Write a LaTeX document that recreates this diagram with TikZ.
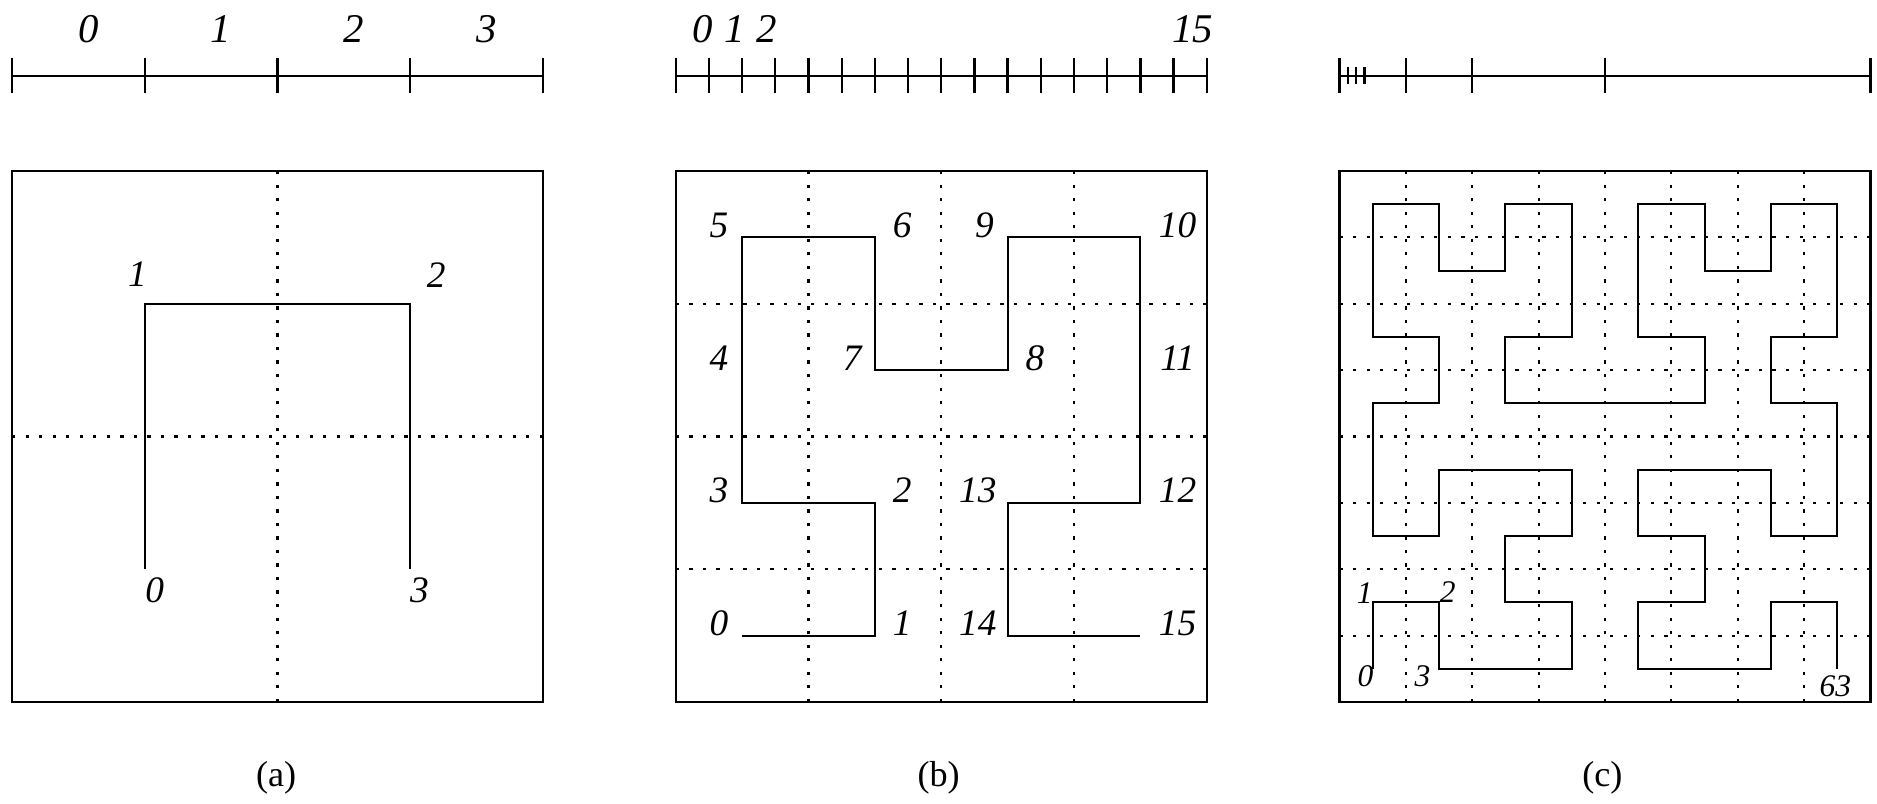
\documentclass[tikz,border=0pt]{standalone}
\usepackage{fontspec}
\setmainfont{Liberation Serif}
\usetikzlibrary{positioning}
\tikzset{
  pane/.style={draw, line width=0.9pt},
  gline/.style={line width=0.9pt, dash pattern=on 1.4pt off 4.4pt},
  hcurve/.style={line width=0.85pt},
  rule/.style={line width=1pt},
  num/.style={font=\fontsize{16}{18}\selectfont\itshape, inner sep=0pt, anchor=base},
  snum/.style={font=\fontsize{13.5}{15}\selectfont\itshape, inner sep=0pt, anchor=base},
  rnum/.style={font=\fontsize{17.5}{20}\selectfont\itshape, inner sep=0pt, anchor=base},
  capt/.style={font=\fontsize{15.5}{18}\selectfont, inner sep=0pt, anchor=base}
}

\begin{document}
\begin{tikzpicture}
\useasboundingbox (-0.181,-1.522) rectangle (28.098,10.576);
% rulers
\draw[rule] (0,9.436) -- (8,9.436);
\foreach \i in {0,2,4,6,8} \draw[rule] (\i,9.176) -- (\i,9.696);
\foreach \i/\t in {0/0,1/1,2/2,3/3} \node[rnum] (ra\t) at (2*\i+1.15,9.94) {\t};
\draw[rule] (10,9.436) -- (18,9.436);
\foreach \i in {0,...,16} \draw[rule] (10+0.5*\i,9.176) -- (10+0.5*\i,9.696);
\node[rnum] (rb0) at (10.41,9.94) {0};
\node[rnum] (rb1) at (10.89,9.94) {1};
\node[rnum] (rb2) at (11.37,9.94) {2};
\node[rnum] (rb15) at (17.79,9.94) {15};
\draw[rule] (20,9.436) -- (28,9.436);
\foreach \x in {20,21,22,24,28} \draw[rule] (\x,9.176) -- (\x,9.696);
\foreach \x in {20.125,20.25,20.375} \draw[rule] (\x,9.306) -- (\x,9.566);

% (a)
\draw[gline] (4,0) -- (4,8) (0,4) -- (8,4);
\draw[pane] (0,0) rectangle (8,8);
\draw[hcurve] (2,2) -- (2,6) -- (6,6) -- (6,2);
\node[num] (a0) at (2.15,1.5) {0};
\node[num] (a1) at (1.89,6.26) {1};
\node[num] (a2) at (6.39,6.24) {2};
\node[num] (a3) at (6.14,1.5) {3};
\node[capt] (capa) at (3.98,-1.266) {(a)};

% (b)
\foreach \k in {12,14,16} \draw[gline] (\k,0) -- (\k,8);
\foreach \k in {2,4,6} \draw[gline] (10,\k) -- (18,\k);
\draw[pane] (10,0) rectangle (18,8);
\draw[hcurve] plot coordinates {(11,1) (13,1) (13,3) (11,3) (11,5) (11,7) (13,7) (13,5)
  (15,5) (15,7) (17,7) (17,5) (17,3) (15,3) (15,1) (17,1)};
\node[num] (b0) at (10.65,1) {0};
\node[num] (b1) at (13.41,1) {1};
\node[num] (b2) at (13.41,3) {2};
\node[num] (b3) at (10.65,3) {3};
\node[num] (b4) at (10.65,5) {4};
\node[num] (b5) at (10.65,7) {5};
\node[num] (b6) at (13.41,7) {6};
\node[num] (b7) at (12.66,5) {7};
\node[num] (b8) at (15.41,5) {8};
\node[num] (b9) at (14.65,7) {9};
\node[num] (b10) at (17.56,7) {10};
\node[num] (b11) at (17.56,5) {11};
\node[num] (b12) at (17.56,3) {12};
\node[num] (b13) at (14.55,3) {13};
\node[num] (b14) at (14.55,1) {14};
\node[num] (b15) at (17.56,1) {15};
\node[capt] (capb) at (13.96,-1.266) {(b)};

% (c)
\foreach \k in {1,...,7} {
  \draw[gline] (20+\k,0) -- (20+\k,8);
  \draw[gline] (20,\k) -- (28,\k);
}
\draw[pane] (20,0) rectangle (28,8);
\begin{scope}[shift={(20.5,0.5)}]
\draw[hcurve] plot coordinates {(0,0) (0,1) (1,1) (1,0) (2,0) (3,0) (3,1) (2,1)
  (2,2) (3,2) (3,3) (2,3) (1,3) (1,2) (0,2) (0,3)
  (0,4) (1,4) (1,5) (0,5) (0,6) (0,7) (1,7) (1,6)
  (2,6) (2,7) (3,7) (3,6) (3,5) (2,5) (2,4) (3,4)
  (4,4) (5,4) (5,5) (4,5) (4,6) (4,7) (5,7) (5,6)
  (6,6) (6,7) (7,7) (7,6) (7,5) (6,5) (6,4) (7,4)
  (7,3) (7,2) (6,2) (6,3) (5,3) (4,3) (4,2) (5,2)
  (5,1) (4,1) (4,0) (5,0) (6,0) (6,1) (7,1) (7,0)};
\end{scope}
\node[snum] (c0) at (20.39,0.23) {0};
\node[snum] (c1) at (20.38,1.49) {1};
\node[snum] (c2) at (21.63,1.5) {2};
\node[snum] (c3) at (21.25,0.23) {3};
\node[snum] (c63) at (27.47,0.08) {63};
\node[capt] (capc) at (23.96,-1.266) {(c)};
\end{tikzpicture}
\end{document}
